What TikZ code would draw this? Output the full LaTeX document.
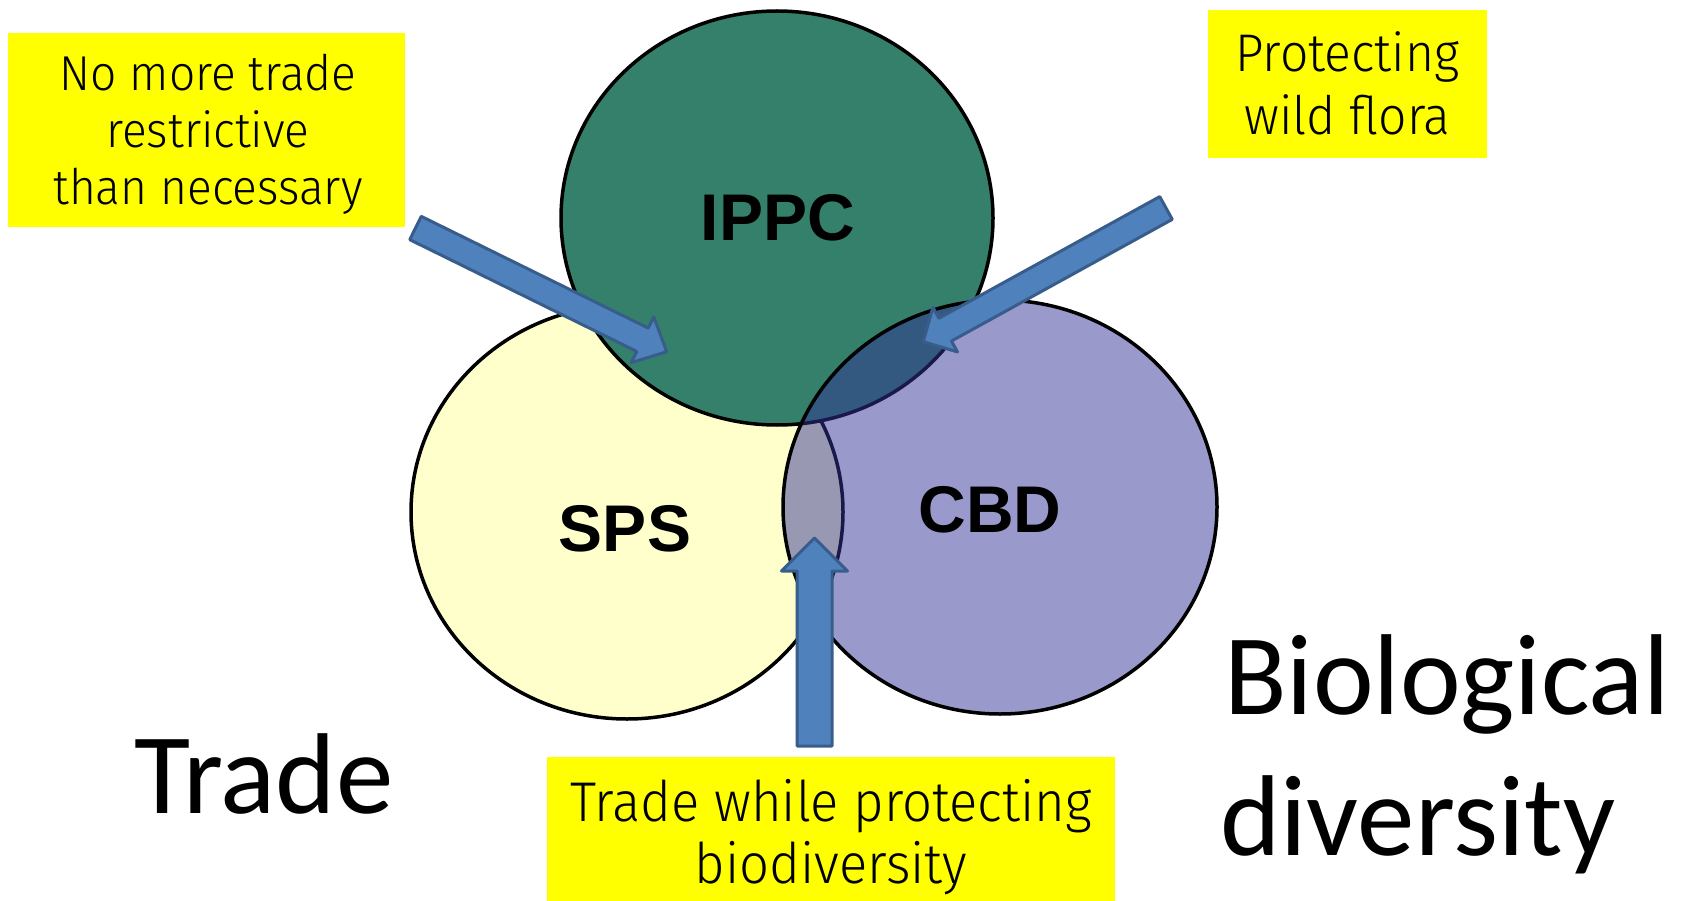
\documentclass[tikz,border=0pt]{standalone}
\usepackage{fontspec}
\usepackage{graphicx}
\usetikzlibrary{calc,shapes.geometric}
\setmainfont{Liberation Sans}
\newfontfamily\carl{Carlito}
\newfontfamily\lightsans{Fira Sans Light}
\definecolor{ippcgreen}{RGB}{53,128,106}
\definecolor{spsyellow}{RGB}{255,255,204}
\definecolor{cbdblue}{RGB}{51,51,153}
\definecolor{boxyellow}{RGB}{255,255,0}
\definecolor{arrfill}{RGB}{79,129,189}
\definecolor{arrdraw}{RGB}{56,93,138}
\newcommand\blockarrow[5]{%
  \coordinate (#1-#2-n) at ($(#2)!#5!(#1)$);
  \draw[barrow] ($(#1)!#3!90:(#2)$) -- ($(#1-#2-n)!#3!90:(#2)$) -- ($(#1-#2-n)!#4!90:(#2)$) -- (#2)
    -- ($(#1-#2-n)!#4!-90:(#2)$) -- ($(#1-#2-n)!#3!-90:(#2)$) -- ($(#1)!#3!-90:(#2)$) -- cycle;
}
\newcommand\narrow[1]{\scalebox{0.94}[1]{#1}}
\begin{document}
\begin{tikzpicture}[x=1pt,y=-1pt,
  circ/.style={ellipse, draw=black, line width=3.5pt, inner sep=0pt, minimum width=432pt, minimum height=414pt},
  ybox/.style={fill=boxyellow, draw=none, inner sep=0pt},
  btext/.style={inner sep=0pt, anchor=base, text=black},
  clabel/.style={inner sep=0pt, font=\fontsize{66}{70}\selectfont\bfseries},
  biglabel/.style={inner sep=0pt, anchor=base west, font=\fontsize{115}{141}\selectfont\carl},
  barrow/.style={fill=arrfill, draw=arrdraw, line width=3pt, line join=round}]
\useasboundingbox (0,0) rectangle (1688,901);
% circles
\node[circ, fill=spsyellow] (sps) at (627,512) {};
\node[circ, fill=ippcgreen] (ippc) at (777,218) {};
\node[circ, fill=cbdblue, fill opacity=0.5, minimum width=434pt] (cbd) at (1000,507) {};
% labels in circles
\node[clabel] (lippc) at (778,218) {IPPC};
\node[clabel] (lsps) at (625,529) {SPS};
\node[clabel] (lcbd) at (990,510) {CBD};
% yellow boxes
\node[ybox, minimum width=397pt, minimum height=194pt] (box1) at (206.5,130) {};
\node[btext, font=\fontsize{49}{57}\selectfont\lightsans] (t11) at (208,90.7) {\narrow{No more trade}};
\node[btext, font=\fontsize{49}{57}\selectfont\lightsans] (t12) at (208,148) {\narrow{restrictive}};
\node[btext, font=\fontsize{49}{57}\selectfont\lightsans] (t13) at (208,205) {\narrow{than necessary}};
\node[ybox, minimum width=279pt, minimum height=148pt] (box2) at (1347.5,84) {};
\node[btext, font=\fontsize{53}{63}\selectfont\lightsans] (t21) at (1347.5,71.7) {\narrow{Protecting}};
\node[btext, font=\fontsize{53}{63}\selectfont\lightsans] (t22) at (1347.5,135) {\narrow{wild flora}};
\node[ybox, minimum width=568pt, minimum height=144pt] (box3) at (831,829) {};
\node[btext, font=\fontsize{56}{62}\selectfont\lightsans] (t31) at (831,821) {\narrow{Trade while protecting}};
\node[btext, font=\fontsize{56}{62}\selectfont\lightsans] (t32) at (831,883) {\narrow{biodiversity}};
% arrows
\coordinate (a1t) at (415.5,228);
\coordinate (a1h) at (666.7,351.7);
\coordinate (a2t) at (1166,208);
\coordinate (a2h) at (923.3,341.7);
\coordinate (a3t) at (814.5,746);
\coordinate (a3h) at (814.5,538);
\blockarrow{a1t}{a1h}{13pt}{25.5pt}{27pt}
\blockarrow{a2t}{a2h}{13pt}{25.5pt}{25pt}
\blockarrow{a3t}{a3h}{17.5pt}{33pt}{33pt}
% big labels
\node[biglabel] (trade) at (134,813) {Trade};
\node[biglabel] (bio1) at (1224,714) {Biological};
\node[biglabel] (bio2) at (1220,855) {diversity};
\end{tikzpicture}
\end{document}
